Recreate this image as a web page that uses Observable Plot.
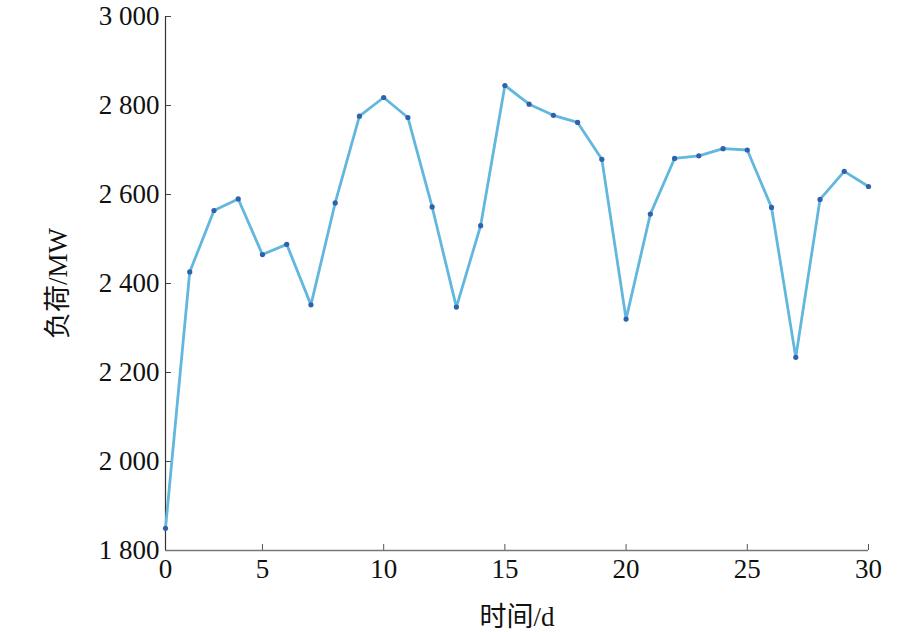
<!DOCTYPE html>
<html>
<head>
<meta charset="utf-8">
<script src="https://cdn.jsdelivr.net/npm/d3@7"></script>
<script src="https://cdn.jsdelivr.net/npm/@observablehq/plot@0.6"></script>
<style>
  html, body { margin: 0; padding: 0; background: #fff; }
  #chart { width: 922px; height: 632px; }
</style>
</head>
<body>
<div id="chart"></div>
<script>
const days = [1,2,3,4,5,6,7,8,9,10,11,12,13,14,15,16,17,18,19,20,21,22,23,24,25,26,27,28,29,30];
const load = [1850,2426,2564,2590,2465,2488,2352,2581,2776,2818,2773,2572,2347,2530,2845,2803,2778,2762,2679,2320,2556,2681,2687,2703,2700,2571,2234,2589,2652,2618];
const xTickValues = [1,5,10,15,20,25,30];
const xTickLabels = ["0","5","10","15","20","25","30"];
const yTickValues = [1800,2000,2200,2400,2600,2800,3000];
const yTickLabels = ["1 800","2 000","2 200","2 400","2 600","2 800","3 000"];

const data = days.map((d, i) => ({day: d, load: load[i]}));
const fontStack = '"Liberation Serif", "Noto Sans CJK SC", serif';

const chart = Plot.plot({
  width: 922,
  height: 632,
  marginLeft: 165,
  marginRight: 54,
  marginTop: 16,
  marginBottom: 82,
  style: {fontFamily: fontStack, fontSize: "27px", color: "#111", background: "#fff", overflow: "visible"},
  x: {domain: [1, 30]},
  y: {domain: [1800, 3000]},
  marks: [
    Plot.axisX(xTickValues, {
      tickSize: -6,
      tickPadding: 14,
      stroke: "#555",
      tickFormat: (d) => xTickLabels[xTickValues.indexOf(d)],
      label: "时间/d",
      labelAnchor: "center",
      labelArrow: "none",
      labelOffset: 75,
      fontSize: 27
    }),
    Plot.axisY(yTickValues, {
      tickSize: -6,
      tickPadding: 12,
      stroke: "#444",
      tickFormat: (d) => yTickLabels[yTickValues.indexOf(d)],
      label: "负荷/MW",
      labelAnchor: "center",
      labelArrow: "none",
      labelOffset: 118,
      fontSize: 27
    }),
    Plot.ruleY([1800], {stroke: "#777", strokeWidth: 1.5}),
    Plot.ruleX([1], {stroke: "#333", strokeWidth: 1.2}),
    Plot.line(data, {x: "day", y: "load", stroke: "#62b7de", strokeWidth: 2.8}),
    Plot.dot(data, {x: "day", y: "load", r: 2.6, fill: "#2f62ad", stroke: "none"})
  ]
});
document.getElementById("chart").appendChild(chart);
</script>
</body>
</html>
